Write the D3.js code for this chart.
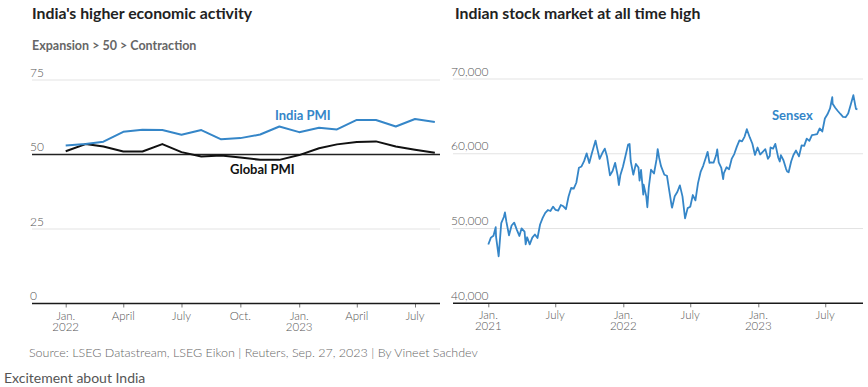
<!DOCTYPE html>
<html>
<head>
<meta charset="utf-8">
<script src="https://cdn.jsdelivr.net/npm/d3@7"></script>
<style>
  body { margin: 0; background: #fff; }
  svg { display: block; font-family: Lato, "Open Sans", sans-serif; }
  .tick-label { font-weight: 300; fill: #555; font-size: 12px; }
  .tick-label.x { font-size: 11.5px; }
</style>
</head>
<body>
<svg id="chart" width="868" height="387"></svg>
<script>
// PMI panel data (composite PMI, monthly)
const pmiMonths = ["2022-01","2022-02","2022-03","2022-04","2022-05","2022-06","2022-07","2022-08","2022-09","2022-10",
  "2022-11","2022-12","2023-01","2023-02","2023-03","2023-04","2023-05","2023-06","2023-07","2023-08"];
const indiaPmi = [53.0, 53.5, 54.3, 57.6, 58.3, 58.2, 56.6, 58.2, 55.1, 55.5, 56.7, 59.4, 57.5, 59.0, 58.4, 61.6, 61.6, 59.4, 61.9, 60.9];
const globalPmi = [51.1, 53.5, 52.7, 51.0, 51.0, 53.5, 50.8, 49.3, 49.7, 49.0, 48.2, 48.2, 49.8, 52.1, 53.4, 54.2, 54.4, 52.7, 51.6, 50.6];
const pmiYTicks = [0, 25, 50, 75];
const pmiXTicks = ["2022-01","2022-04","2022-07","2022-10","2023-01","2023-04","2023-07"];
const pmiXLabels = [["Jan.","2022"],["April"],["July"],["Oct."],["Jan.","2023"],["April"],["July"]];

// Sensex panel data (closing levels)
const sensexDates = [
  "2021-01-01","2021-01-08","2021-01-15","2021-01-21","2021-01-22","2021-01-29","2021-02-05","2021-02-12","2021-02-15","2021-02-19",
  "2021-02-26","2021-03-05","2021-03-12","2021-03-19","2021-03-26","2021-04-01","2021-04-09","2021-04-12","2021-04-16","2021-04-23",
  "2021-04-30","2021-05-07","2021-05-14","2021-05-21","2021-05-28","2021-06-04","2021-06-11","2021-06-18","2021-06-25","2021-07-02",
  "2021-07-09","2021-07-16","2021-07-23","2021-07-30","2021-08-06","2021-08-13","2021-08-20","2021-08-27","2021-09-03","2021-09-10",
  "2021-09-17","2021-09-24","2021-10-01","2021-10-08","2021-10-18","2021-10-22","2021-10-29","2021-11-05","2021-11-12","2021-11-18",
  "2021-11-26","2021-12-03","2021-12-10","2021-12-17","2021-12-20","2021-12-24","2021-12-31",
  "2022-01-07","2022-01-14","2022-01-18","2022-01-21","2022-01-28","2022-02-04","2022-02-11","2022-02-14","2022-02-18","2022-02-24",
  "2022-02-25","2022-03-04","2022-03-07","2022-03-11","2022-03-17","2022-03-25","2022-04-01","2022-04-04","2022-04-08","2022-04-13",
  "2022-04-22","2022-04-29","2022-05-06","2022-05-12","2022-05-13","2022-05-20","2022-05-27","2022-06-03","2022-06-10","2022-06-17",
  "2022-06-24","2022-07-01","2022-07-08","2022-07-15","2022-07-22","2022-07-29","2022-08-05","2022-08-12","2022-08-17","2022-08-22",
  "2022-08-26","2022-09-02","2022-09-09","2022-09-12","2022-09-16","2022-09-23","2022-09-28","2022-09-30","2022-10-07","2022-10-14",
  "2022-10-21","2022-10-28","2022-11-04","2022-11-11","2022-11-18","2022-11-25","2022-12-01","2022-12-09","2022-12-16","2022-12-23",
  "2022-12-30",
  "2023-01-06","2023-01-13","2023-01-20","2023-01-27","2023-02-01","2023-02-03","2023-02-10","2023-02-16","2023-02-24","2023-02-28",
  "2023-03-03","2023-03-10","2023-03-17","2023-03-20","2023-03-24","2023-03-31","2023-04-06","2023-04-13","2023-04-21","2023-04-28",
  "2023-05-05","2023-05-12","2023-05-19","2023-05-26","2023-06-02","2023-06-09","2023-06-16","2023-06-23","2023-06-30","2023-07-07",
  "2023-07-14","2023-07-20","2023-07-21","2023-07-28","2023-08-04","2023-08-11","2023-08-18","2023-08-25","2023-09-01","2023-09-08",
  "2023-09-15","2023-09-22","2023-09-26"];
const sensexValues = [
  47869, 48782, 49035, 50184, 48879, 46286, 50732, 51544, 52154, 50890,
  49100, 50406, 50793, 49858, 49008, 50030, 49592, 47883, 48832, 47878,
  48782, 49206, 48733, 50541, 51423, 52100, 52475, 52344, 52925, 52485,
  52386, 53140, 52976, 52587, 54278, 55437, 55329, 56125, 58130, 58305,
  59015, 60048, 58765, 60059, 61766, 60821, 59307, 60067, 60687, 59636,
  57107, 57696, 58787, 57011, 55822, 57124, 58254,
  59745, 61223, 61309, 59037, 57200, 58645, 58153, 56406, 57833, 54530,
  55859, 54334, 52843, 55550, 57864, 57362, 59277, 60612, 59447, 58339,
  57197, 57061, 54836, 52930, 52794, 54326, 54885, 55769, 54303, 51360,
  52728, 52908, 54482, 53760, 56072, 57570, 58388, 59463, 60260, 58774,
  58834, 58803, 59793, 60571, 58841, 58099, 56598, 57427, 58191, 57920,
  59307, 59960, 60950, 61795, 61663, 62294, 63284, 62182, 61338, 59845,
  60841,
  59900, 60261, 60621, 59331, 59708, 60842, 60683, 61320, 59464, 58962,
  59809, 59135, 57990, 57629, 57527, 58992, 59833, 60431, 59655, 61112,
  61054, 62028, 61730, 62502, 62547, 62625, 63385, 62979, 64719, 65280,
  66060, 67572, 66684, 66160, 65721, 65323, 64949, 64887, 65387, 66599,
  67839, 66009, 65945];
const sensexYTicks = [40000, 50000, 60000, 70000];
const sensexXTicks = ["2021-01-01","2021-07-01","2022-01-01","2022-07-01","2023-01-01","2023-07-01"];
const sensexXLabels = [["Jan.","2021"],["July"],["Jan.","2022"],["July"],["Jan.","2023"],["July"]];

const blue = "#3586c8";
const svg = d3.select("#chart");
const parseMonth = d3.timeParse("%Y-%m");
const parseDay = d3.timeParse("%Y-%m-%d");

// ---------- left panel ----------
const pmiX = d3.scaleTime()
  .domain([parseMonth("2022-01"), parseMonth("2023-07")])
  .range([65.7, 415]);
const pmiY = d3.scaleLinear().domain([0, 75]).range([303.5, 80]);

const left = svg.append("g");

left.append("text").attr("x", 32).attr("y", 19)
  .attr("font-size", 15.8).attr("font-weight", 700).attr("fill", "#222")
  .text("India's higher economic activity");
left.append("text").attr("x", 32).attr("y", 50)
  .attr("font-size", 12.5).attr("font-weight", 700).attr("fill", "#666")
  .text("Expansion > 50 > Contraction");

function yGrid(g, scale, ticks, x0, x1, fmt, baseVal, baseColor) {
  ticks.forEach(t => {
    if (t !== scale.domain()[0]) {
      g.append("line")
        .attr("x1", x0).attr("x2", x1)
        .attr("y1", scale(t)).attr("y2", scale(t))
        .attr("stroke", t === baseVal ? baseColor : "#e3e3e3")
        .attr("stroke-width", t === baseVal ? 1.3 : 1);
    }
    g.append("text").attr("class", "tick-label")
      .attr("x", x0 - 2).attr("y", scale(t) - 3.5)
      .text(fmt(t));
  });
}

yGrid(left, pmiY, pmiYTicks, 32, 440, d3.format("d"), 50, "#222");

function xAxis(g, scale, y0, x0, x1, ticks, labels) {
  const ax = d3.axisBottom(scale).tickValues(ticks).tickSize(4).tickFormat("");
  const ag = g.append("g").attr("transform", `translate(0,${y0})`).call(ax);
  ag.select(".domain").remove();
  ag.selectAll(".tick line").attr("stroke", "#777");
  g.append("line").attr("x1", x0).attr("x2", x1).attr("y1", y0).attr("y2", y0)
    .attr("stroke", "#1a1a1a").attr("stroke-width", 1.6);
  ticks.forEach((t, i) => {
    labels[i].forEach((s, j) => {
      g.append("text").attr("class", "tick-label x")
        .attr("x", scale(t)).attr("y", y0 + 16 + j * 11)
        .attr("text-anchor", "middle")
        .text(s);
    });
  });
}

xAxis(left, pmiX, 303.5, 32, 440, pmiXTicks.map(parseMonth), pmiXLabels);

const pmiLine = series => d3.line()
  .x((d, i) => pmiX(parseMonth(pmiMonths[i])))
  .y(d => pmiY(d))(series);

left.append("path").attr("d", pmiLine(globalPmi))
  .attr("fill", "none").attr("stroke", "#111").attr("stroke-width", 2)
  .attr("stroke-linejoin", "round");
left.append("path").attr("d", pmiLine(indiaPmi))
  .attr("fill", "none").attr("stroke", blue).attr("stroke-width", 2)
  .attr("stroke-linejoin", "round");

left.append("text").attr("x", 275).attr("y", 119.5)
  .attr("font-size", 13).attr("font-weight", 700).attr("fill", blue)
  .text("India PMI");
left.append("text").attr("x", 230).attr("y", 173.5)
  .attr("font-size", 13).attr("font-weight", 700).attr("fill", "#111")
  .text("Global PMI");

// ---------- right panel ----------
const sxX = d3.scaleTime()
  .domain([parseDay("2021-01-01"), parseDay("2023-01-01")])
  .range([488.3, 758.3]);
const sxY = d3.scaleLinear().domain([40000, 70000]).range([303.3, 79]);

const right = svg.append("g");
right.append("text").attr("x", 455).attr("y", 19)
  .attr("font-size", 15.8).attr("font-weight", 700).attr("fill", "#222")
  .text("Indian stock market at all time high");

yGrid(right, sxY, sensexYTicks, 453, 863, d3.format(","), null, null);
xAxis(right, sxX, 303.3, 453, 863, sensexXTicks.map(parseDay), sensexXLabels);

right.append("path")
  .attr("d", d3.line()
    .x((d, i) => sxX(parseDay(sensexDates[i])))
    .y(d => sxY(d))(sensexValues))
  .attr("fill", "none").attr("stroke", blue).attr("stroke-width", 1.8)
  .attr("stroke-linejoin", "round");

right.append("text").attr("x", 772).attr("y", 119.5)
  .attr("font-size", 13).attr("font-weight", 700).attr("fill", blue)
  .text("Sensex");

// ---------- footer ----------
svg.append("text").attr("x", 29).attr("y", 357)
  .attr("font-size", 12.5).attr("font-weight", 300).attr("fill", "#666")
  .text("Source: LSEG Datastream, LSEG Eikon | Reuters, Sep. 27, 2023 | By Vineet Sachdev");
svg.append("text").attr("x", 4).attr("y", 383)
  .attr("font-size", 14).attr("fill", "#555")
  .text("Excitement about India");
</script>
</body>
</html>
